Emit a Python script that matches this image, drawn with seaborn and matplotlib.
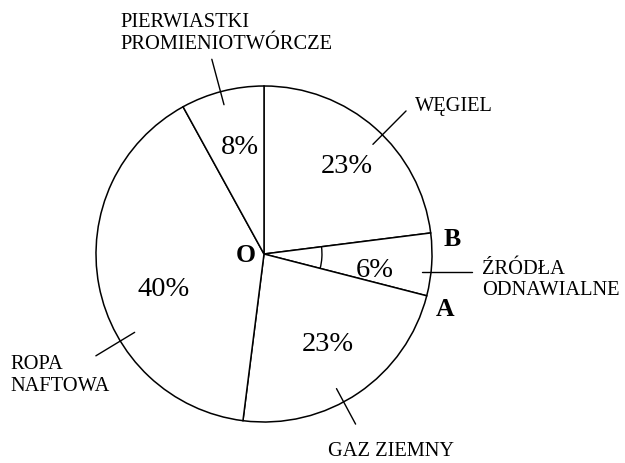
import numpy as np
import matplotlib
matplotlib.use("Agg")
import matplotlib.pyplot as plt
from matplotlib.patches import Arc
import seaborn as sns

# ---- data ----
categories = ["WĘGIEL", "ŹRÓDŁA\nODNAWIALNE", "GAZ ZIEMNY", "ROPA\nNAFTOWA",
              "PIERWIASTKI\nPROMIENIOTWÓRCZE"]
shares = [23, 6, 23, 40, 8]
pct_labels = [f"{v}%" for v in shares]

sns.set_theme(style="white")
plt.rcParams["font.family"] = ["Liberation Serif", "DejaVu Serif"]

W, H, DPI = 625, 464, 100
fig = plt.figure(figsize=(W / DPI, H / DPI), dpi=DPI)
ax = fig.add_axes([0, 0, 1, 1])

# pixel layout: centre at (264,255), radius 168 px
cx, cy, R = 264, 255, 168

palette = sns.color_palette(["#ffffff"] * len(shares))
wedges, _ = ax.pie(shares, startangle=90, counterclock=False, radius=1,
                   colors=palette,
                   wedgeprops=dict(edgecolor="black", linewidth=1.1))
ax.set_aspect("auto")
ax.set_xlim(-cx / R, (W - cx) / R)
ax.set_ylim(-(H - cy) / R, cy / R)
ax.set_axis_off()

# percentage texts (polar placement: angle deg, radius fraction)
pct_pos = [(46.7, 0.72), (-7.7, 0.667), (-54.6, 0.657), (199.3, 0.63), (102.6, 0.653)]
for txt, (a, r) in zip(pct_labels, pct_pos):
    t = np.deg2rad(a)
    ax.text(r * np.cos(t), r * np.sin(t), txt, ha="center", va="center",
            fontsize=20.5, color="black")

# leader ticks (angle, r_in, r_out)
ticks = {0: (45.2, 0.92, 1.2), 2: (-61.7, 0.91, 1.15), 3: (211.2, 0.90, 1.17),
         4: (105.0, 0.92, 1.2)}
for i, (a, r0, r1) in ticks.items():
    t = np.deg2rad(a)
    ax.plot([r0 * np.cos(t), r1 * np.cos(t)], [r0 * np.sin(t), r1 * np.sin(t)],
            color="black", lw=1.0)
# horizontal tick for renewables
ax.plot([0.94, 1.238], [-0.107, -0.107], color="black", lw=1.0)

# category labels (pixel anchors, left aligned)
label_px = [(415, 107), (482, 280), (328, 452), (10, 375.5), (120, 33.5)]
for lab, (px, py) in zip(categories, label_px):
    ax.text((px - cx) / R, (cy - py) / R, lab, ha="left", va="center",
            fontsize=14.7, linespacing=1.2, color="black")

# angle arc between OA and OB
ends = np.cumsum([0] + shares)
a_B = 90 - ends[1] * 3.6
a_A = 90 - ends[2] * 3.6
ax.add_patch(Arc((0, 0), 2 * 0.345, 2 * 0.345, theta1=a_A, theta2=a_B,
                 color="black", lw=1.0))

# point letters
for s, (px, py) in {"O": (246, 256), "B": (452, 240), "A": (445, 309)}.items():
    ax.text((px - cx) / R, (cy - py) / R, s, ha="center", va="center",
            fontsize=18.5, fontweight="bold", color="black")

fig.savefig("out.png", dpi=DPI, facecolor="white")
